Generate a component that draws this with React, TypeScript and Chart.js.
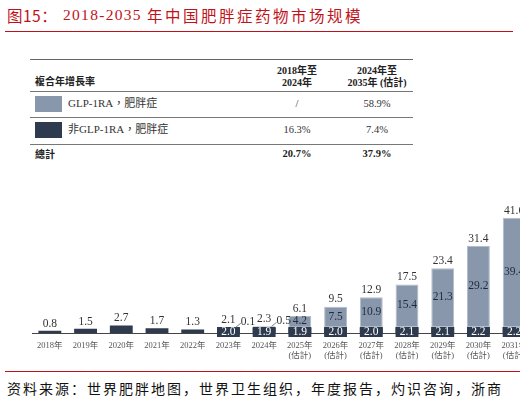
import React, { useEffect, useRef } from "react";
import { Chart, registerables } from "chart.js";

Chart.register(...registerables);

// ---------- data ----------
const categories: string[][] = [
  ["2018年"], ["2019年"], ["2020年"], ["2021年"], ["2022年"], ["2023年"], ["2024年"],
  ["2025年", "(估計)"], ["2026年", "(估計)"], ["2027年", "(估計)"], ["2028年", "(估計)"],
  ["2029年", "(估計)"], ["2030年", "(估計)"], ["2031年", "(估計)"],
];
const nonGlpValues = [0.8, 1.5, 2.7, 1.7, 1.3, 2.0, 1.9, 1.9, 2.0, 2.0, 2.1, 2.1, 2.2, 2.2];
const glpValues: (number | null)[] = [null, null, null, null, null, 0.1, 0.5, 4.2, 7.5, 10.9, 15.4, 21.3, 29.2, 39.4];
const totalValues = [0.8, 1.5, 2.7, 1.7, 1.3, 2.1, 2.3, 6.1, 9.5, 12.9, 17.5, 23.4, 31.4, 41.6];

const tableRows = [
  { name: "GLP-1RA，肥胖症", a: "/", b: "58.9%" },
  { name: "非GLP-1RA，肥胖症", a: "16.3%", b: "7.4%" },
];
const tableTotal = { name: "總計", a: "20.7%", b: "37.9%" };

const DARK = "#2e3b4f";
const LIGHT = "#8897ac";
const SERIF = "'Liberation Serif', 'Noto Sans CJK TC', serif";
const CJK_SC = "'Noto Sans CJK SC', sans-serif";
const CJK_TC = "'Liberation Serif', 'Noto Sans CJK TC', sans-serif";

const labelPlugin = {
  id: "barLabels",
  afterDatasetsDraw(chart: any) {
    const ctx = chart.ctx as CanvasRenderingContext2D;
    const metaD = chart.getDatasetMeta(0);
    const metaL = chart.getDatasetMeta(1);
    ctx.save();
    ctx.font = `11.5px ${SERIF}`;
    for (let i = 0; i < categories.length; i++) {
      const bd: any = metaD.data[i];
      const bl: any = metaL.data[i];
      const g = glpValues[i];
      const w = bd.width;
      const top = g ? Math.min(bl.y, bd.y) : bd.y;
      // total label
      ctx.fillStyle = "#333";
      ctx.textAlign = "center";
      ctx.textBaseline = "bottom";
      ctx.fillText(totalValues[i].toFixed(1), bd.x, top - 1.5);
      // dark segment label
      if (i >= 5) {
        ctx.fillStyle = DARK;
        ctx.fillRect(bd.x - w / 2, bd.base - 6, w, 10);
        ctx.fillStyle = "#ffffff";
        ctx.textBaseline = "middle";
        ctx.fillText(nonGlpValues[i].toFixed(1), bd.x, bd.base - 1);
      }
      // light segment label
      if (g != null) {
        if (g >= 1) {
          ctx.fillStyle = "#1f2a38";
          ctx.textBaseline = "middle";
          ctx.fillText(g.toFixed(1), bl.x, (bl.y + bl.base) / 2 - 0.5);
        } else {
          const rx = bl.x + w / 2;
          ctx.strokeStyle = "#666";
          ctx.lineWidth = 0.8;
          ctx.beginPath();
          ctx.moveTo(rx - 4, top);
          ctx.lineTo(rx + 1, top - 4);
          ctx.stroke();
          ctx.fillStyle = "#333";
          ctx.textAlign = "left";
          ctx.textBaseline = "middle";
          ctx.fillText(g.toFixed(1), rx + 1, top - 5);
        }
      }
    }
    ctx.restore();
  },
};

function BarChart() {
  const ref = useRef<HTMLCanvasElement | null>(null);
  useEffect(() => {
    if (!ref.current) return;
    const chart = new Chart(ref.current, {
      type: "bar",
      data: {
        labels: categories,
        datasets: [
          {
            label: "非GLP-1RA，肥胖症",
            data: nonGlpValues,
            backgroundColor: DARK,
            borderWidth: 0,
            barPercentage: 0.64,
            categoryPercentage: 1,
          },
          {
            label: "GLP-1RA，肥胖症",
            data: glpValues,
            backgroundColor: LIGHT,
            borderColor: "#b3bdca",
            borderWidth: 1,
            borderSkipped: false,
            barPercentage: 0.64,
            categoryPercentage: 1,
          },
        ],
      },
      options: {
        animation: false,
        responsive: true,
        maintainAspectRatio: false,
        layout: { padding: { left: 32, right: 13, top: 4.5, bottom: 7 } },
        plugins: { legend: { display: false }, tooltip: { enabled: false } },
        scales: {
          x: {
            stacked: true,
            grid: { display: false, drawTicks: false },
            border: { display: true, color: "#444", width: 1 },
            ticks: {
              autoSkip: false,
              maxRotation: 0,
              minRotation: 0,
              padding: 8,
              color: "#555",
              font: { family: SERIF, size: 8.5, lineHeight: 1.15 },
            },
            afterFit: (scale: any) => {
              scale.height = 30;
            },
          },
          y: { stacked: true, display: false, min: 0, max: 50 },
        },
      },
      plugins: [labelPlugin],
    });
    return () => chart.destroy();
  }, []);
  return (
    <div style={{ position: "absolute", left: 0, top: 190, width: 545, height: 180 }}>
      <canvas ref={ref} />
    </div>
  );
}

const txt = (
  x: number,
  cy: number,
  size: number,
  extra: React.CSSProperties = {},
  center = false
): React.CSSProperties => ({
  position: "absolute",
  left: x,
  top: cy - size * 0.6,
  fontSize: size,
  lineHeight: `${size * 1.2}px`,
  whiteSpace: "nowrap",
  transform: center ? "translateX(-50%)" : undefined,
  ...extra,
});

const rule = (y: number, color = "#777"): React.CSSProperties => ({
  position: "absolute",
  left: 30,
  width: 383,
  top: y,
  height: 1,
  background: color,
});

export default function App() {
  const rowY = [104, 130];
  const swY = [96, 122];
  return (
    <div
      style={{
        position: "fixed",
        left: 0,
        top: 0,
        width: 520,
        height: 401,
        overflow: "hidden",
        background: "#fff",
        fontFamily: CJK_SC,
      }}
    >
      {/* title */}
      <div style={txt(7, 15, 15.5, { color: "#c0121a", fontFamily: CJK_SC, letterSpacing: 0.5 })}>图15：</div>
      <div style={txt(63, 15, 15.5, { color: "#c0121a", fontFamily: SERIF, letterSpacing: 1.3 })}>2018-2035</div>
      <div style={txt(147, 15, 15.5, { color: "#c0121a", fontFamily: CJK_SC, letterSpacing: 2.5 })}>
        年中国肥胖症药物市场规模
      </div>
      <div style={{ position: "absolute", left: 5, width: 508, top: 30.5, height: 1, background: "#c0121a" }} />

      {/* table */}
      <div style={rule(59, "#666")} />
      <div style={txt(35, 81, 10, { fontWeight: 700, color: "#222", fontFamily: "'Noto Sans CJK TC', sans-serif" })}>
        複合年增長率
      </div>
      <div style={txt(297, 71, 10, { fontWeight: 700, color: "#222", fontFamily: CJK_TC }, true)}>2018年至</div>
      <div style={txt(297, 82.5, 10, { fontWeight: 700, color: "#222", fontFamily: CJK_TC }, true)}>2024年</div>
      <div style={txt(377, 71, 10, { fontWeight: 700, color: "#222", fontFamily: CJK_TC }, true)}>2024年至</div>
      <div style={txt(377, 82.5, 10, { fontWeight: 700, color: "#222", fontFamily: CJK_TC }, true)}>2035年 (估計)</div>
      <div style={rule(91)} />
      {tableRows.map((r, i) => (
        <React.Fragment key={r.name}>
          <div
            style={{
              position: "absolute",
              left: 35,
              top: swY[i],
              width: 27,
              height: 16,
              background: i === 0 ? LIGHT : DARK,
            }}
          />
          <div style={txt(68, rowY[i], 11, { color: "#333", fontFamily: CJK_TC })}>{r.name}</div>
          <div style={txt(297, rowY[i], 10.5, { color: "#333", fontFamily: CJK_TC }, true)}>{r.a}</div>
          <div style={txt(377, rowY[i], 10.5, { color: "#333", fontFamily: CJK_TC }, true)}>{r.b}</div>
          <div style={rule(i === 0 ? 117 : 144)} />
        </React.Fragment>
      ))}
      <div style={txt(35, 154, 10, { fontWeight: 700, color: "#222", fontFamily: "'Noto Sans CJK TC', sans-serif" })}>
        {tableTotal.name}
      </div>
      <div style={txt(297, 154, 10.5, { fontWeight: 700, color: "#222", fontFamily: CJK_TC }, true)}>{tableTotal.a}</div>
      <div style={txt(377, 154, 10.5, { fontWeight: 700, color: "#222", fontFamily: CJK_TC }, true)}>{tableTotal.b}</div>

      <BarChart />

      {/* footer */}
      <div style={{ position: "absolute", left: 5, width: 515, top: 370.5, height: 1, background: "#c0121a" }} />
      <div style={txt(7, 388, 14, { color: "#111", fontFamily: CJK_SC, letterSpacing: 2 })}>
        资料来源：世界肥胖地图，世界卫生组织，年度报告，灼识咨询，浙商
      </div>
    </div>
  );
}
